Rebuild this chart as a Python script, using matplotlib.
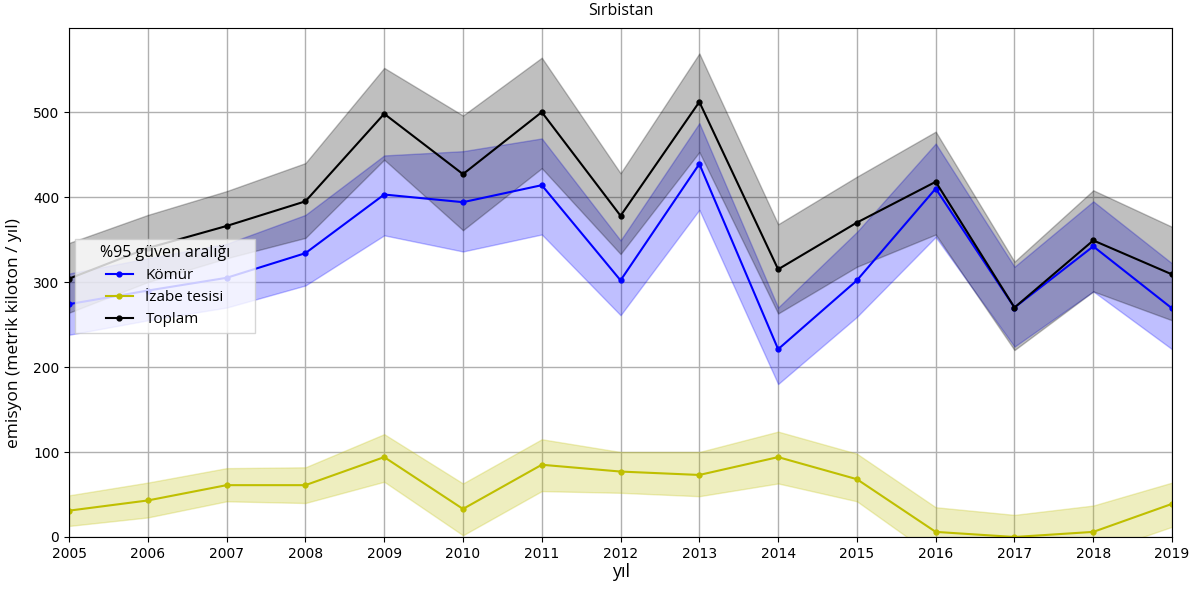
import matplotlib
matplotlib.use("Agg")
import matplotlib.pyplot as plt

years = list(range(2005, 2020))

komur = [274, 290, 305, 334, 403, 394, 414, 302, 439, 221, 302, 410, 270, 342, 269]
komur_lo = [238, 255, 270, 296, 355, 336, 356, 261, 385, 180, 259, 353, 224, 289, 221]
komur_hi = [310, 328, 345, 379, 449, 454, 469, 349, 487, 270, 359, 463, 318, 395, 322]

izabe = [31, 43, 61, 61, 94, 33, 85, 77, 73, 94, 68, 6, 0, 6, 39]
izabe_lo = [13, 23, 42, 40, 65, 2, 54, 52, 48, 63, 42, -24, -26, -20, 12]
izabe_hi = [49, 64, 81, 82, 121, 63, 115, 100, 100, 124, 98, 35, 26, 37, 64]

toplam = [304, 340, 366, 395, 498, 427, 500, 378, 512, 315, 370, 418, 270, 349, 309]
toplam_lo = [264, 300, 328, 352, 444, 361, 434, 333, 453, 263, 318, 356, 220, 289, 255]
toplam_hi = [346, 379, 407, 440, 552, 496, 564, 428, 569, 368, 424, 477, 324, 408, 365]

labels = ["Kömür", "İzabe tesisi", "Toplam"]
legend_title = "%95 güven aralığı"
title = "Sırbistan"
xlabel = "yıl"
ylabel = "emisyon (metrik kiloton / yıl)"

txtfont = ["Open Sans", "DejaVu Sans"]

fig = plt.figure(figsize=(12.01, 5.89), dpi=100)
ax = fig.add_axes([0.0575, 0.0883, 0.9184, 0.8642])

series = [
    (komur, komur_lo, komur_hi, "blue"),
    (izabe, izabe_lo, izabe_hi, "y"),
    (toplam, toplam_lo, toplam_hi, "black"),
]
for (vals, lo, hi, c), lab in zip(series, labels):
    ax.plot(years, vals, color=c, marker="o", markersize=3.5, linewidth=1.5, label=lab)
    ax.fill_between(years, lo, hi, color=c, alpha=0.25)

ax.set_xlim(2005, 2019)
ax.set_ylim(0, 599)
ax.set_xticks(years)
ax.set_yticks([0, 100, 200, 300, 400, 500])
ax.tick_params(labelsize=10)
ax.grid(True, color="#b0b0b0", linewidth=1)
ax.set_axisbelow(True)

ax.set_title(title, fontsize=11.5, family=txtfont, pad=9)
ax.set_xlabel(xlabel, fontsize=13, family=txtfont, labelpad=2)
ax.set_ylabel(ylabel, fontsize=12.5, family=txtfont, labelpad=4)
ax.yaxis.set_label_coords(-0.043, 0.40)

leg = ax.legend(title=legend_title, loc="upper left", bbox_to_anchor=(0.005, 0.585),
                borderaxespad=0, prop={"family": txtfont, "size": 11},
                title_fontproperties={"family": txtfont, "size": 11.5},
                labelspacing=0.45, handlelength=1.8, fancybox=False)
leg._legend_box.set_width(168)

fig.savefig("out.png", dpi=100)
